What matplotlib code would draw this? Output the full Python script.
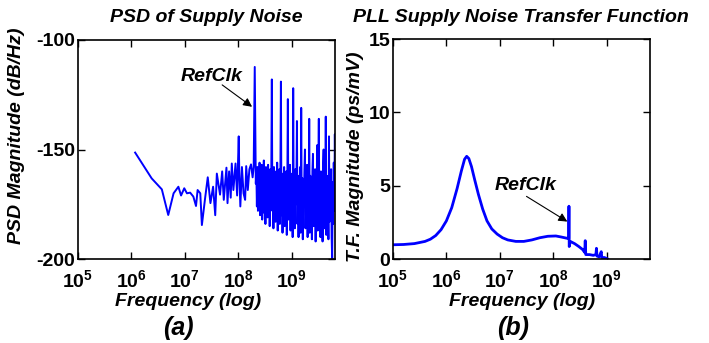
import matplotlib
matplotlib.use("Agg")
import matplotlib.pyplot as plt
import numpy as np

plt.rcParams['font.family'] = ['Liberation Sans', 'DejaVu Sans']
plt.rcParams['mathtext.fontset'] = 'custom'
plt.rcParams['mathtext.rm'] = 'Liberation Sans:bold'
plt.rcParams['mathtext.bf'] = 'Liberation Sans:bold'

# ---------------- data ----------------
psd_logf = [6.07, 6.38, 6.57, 6.69, 6.79, 6.88, 6.93, 6.99, 7.04, 7.10,
            7.16, 7.21, 7.24, 7.29, 7.32, 7.38, 7.43, 7.48, 7.53, 7.57,
            7.60, 7.66, 7.70, 7.73, 7.78, 7.80, 7.83, 7.86, 7.88, 7.91,
            7.95, 7.98, 8.01, 8.02, 8.04, 8.07, 8.10, 8.13, 8.15, 8.18,
            8.21, 8.24, 8.27, 8.29, 8.31, 8.33, 8.34,
            8.35, 8.36, 8.37, 8.38, 8.39, 8.40, 8.41, 8.42, 8.43, 8.44,
            8.45, 8.46, 8.47, 8.48, 8.49, 8.50, 8.51, 8.52, 8.53, 8.54,
            8.55, 8.56, 8.57, 8.58, 8.59, 8.60, 8.61, 8.62, 8.63, 8.64,
            8.65, 8.66, 8.67, 8.68, 8.69, 8.70, 8.71, 8.72, 8.73, 8.74,
            8.75, 8.76, 8.77, 8.78, 8.79, 8.80, 8.81, 8.82, 8.83, 8.84,
            8.85, 8.86, 8.87, 8.88, 8.89, 8.90, 8.91, 8.92, 8.93, 8.94,
            8.95, 8.96, 8.97, 8.98, 8.99, 9.00, 9.01, 9.02, 9.03, 9.04,
            9.05, 9.06, 9.07, 9.08, 9.09, 9.10, 9.11, 9.12, 9.13, 9.14,
            9.15, 9.16, 9.17, 9.18, 9.19, 9.20, 9.21, 9.22, 9.23, 9.24,
            9.25, 9.26, 9.27, 9.28, 9.29, 9.30, 9.31, 9.32, 9.33, 9.34,
            9.35, 9.36, 9.37, 9.38, 9.39, 9.40, 9.41, 9.42, 9.43, 9.44,
            9.45, 9.46, 9.47, 9.48, 9.49, 9.50, 9.51, 9.52, 9.53, 9.54,
            9.55, 9.56, 9.57, 9.58, 9.59, 9.60, 9.61, 9.62, 9.63, 9.64,
            9.65, 9.66, 9.67, 9.68, 9.69, 9.70, 9.71, 9.72, 9.73, 9.74,
            9.75, 9.76, 9.77, 9.78, 9.79, 9.80, 9.81, 9.82]
psd_db = [-151.4, -163.2, -168.2, -179.9, -170.0, -167.0, -171.0, -167.7, -170.0, -169.7,
          -171.5, -175.8, -168.5, -170.0, -184.5, -172.3, -162.7, -174.5, -167.0, -180.0,
          -161.0, -170.6, -160.0, -173.0, -158.3, -174.5, -160.0, -172.0, -156.4, -168.5,
          -156.4, -171.0, -144.0, -160.0, -176.0, -158.0, -170.0, -173.0, -157.6, -168.5,
          -159.0, -156.8, -162.7, -158.0, -112.3, -165.6, -160.0,
          -176, -158, -178, -160, -172, -156, -180, -162, -175, -157,
          -182, -163, -170, -155, -179, -161, -184, -158, -173, -164,
          -181, -157, -176, -162, -185, -159, -174, -160, -118, -178,
          -163, -186, -158, -175, -165, -183, -160, -177, -156, -187,
          -164, -172, -159, -184, -162, -119, -180, -161, -188, -166,
          -174, -158, -185, -163, -179, -160, -189, -165, -127, -182,
          -162, -176, -157, -187, -166, -180, -161, -190, -122, -178,
          -164, -186, -159, -175, -167, -137, -184, -162, -190, -165,
          -177, -158, -188, -131, -181, -163, -191, -166, -175, -160,
          -150, -186, -164, -179, -157, -190, -167, -182, -136, -188,
          -162, -176, -165, -191, -160, -152, -185, -168, -178, -159,
          -192, -166, -181, -148, -187, -163, -136, -183, -167, -190,
          -160, -177, -165, -192, -158, -150, -186, -166, -180, -135,
          -189, -162, -176, -168, -191, -144, -183, -164, -179, -159,
          -190, -200, -165, -184, -156, -178, -143, -170]

tf_logf = [5.00, 5.20, 5.40, 5.60, 5.70, 5.80, 5.90, 6.00, 6.10, 6.20,
           6.28, 6.34, 6.38, 6.42, 6.47, 6.53, 6.60, 6.68, 6.76, 6.85,
           6.95, 7.05, 7.15, 7.30, 7.45, 7.60, 7.75, 7.90, 8.05, 8.15,
           8.25, 8.29, 8.295, 8.30, 8.32, 8.40, 8.48, 8.55, 8.59, 8.60,
           8.61, 8.68, 8.75, 8.80, 8.81, 8.82, 8.86, 8.90, 8.91, 8.96,
           9.02]
tf_mag = [0.97, 0.99, 1.05, 1.20, 1.35, 1.60, 2.00, 2.60, 3.50, 4.80,
          6.00, 6.80, 7.00, 6.85, 6.30, 5.40, 4.40, 3.40, 2.60, 2.05,
          1.70, 1.45, 1.30, 1.20, 1.20, 1.30, 1.45, 1.55, 1.57, 1.50,
          1.42, 1.40, 3.60, 0.85, 1.20, 1.05, 0.85, 0.65, 0.45, 1.25,
          0.30, 0.30, 0.25, 0.30, 0.73, 0.20, 0.15, 0.50, 0.10, 0.10,
          0.00]

xtick_exp = [5, 6, 7, 8, 9]
left_yticks = [-200, -150, -100]
right_yticks = [0, 5, 10, 15]

# ---------------- figure ----------------
fig = plt.figure(figsize=(7.09, 3.43), dpi=100)
W, H = 709, 343

def px_axes(x0, y0, x1, y1):
    return fig.add_axes([x0 / W, 1 - y1 / H, (x1 - x0) / W, (y1 - y0) / H])

axL = px_axes(78, 40, 335, 259)
axR = px_axes(393, 39, 650, 259)

blue = (0, 0, 1)
axL.plot(10 ** np.array(psd_logf), psd_db, color=blue, lw=1.4)
axR.plot(10 ** np.array(tf_logf), tf_mag, color=blue, lw=2.0)

for ax in (axL, axR):
    ax.set_xscale('log')
    ax.set_xlim(1e5, 6.5e9)
    ax.set_xticks([10.0 ** e for e in xtick_exp])
    ax.set_xticklabels([r'$\mathbf{10^{%d}}$' % e for e in xtick_exp])
    ax.tick_params(axis='both', which='both', direction='in', top=True, right=True,
                   labelsize=14)
    ax.tick_params(axis='both', which='major', length=5, width=1)
    ax.tick_params(axis='both', which='minor', length=2.5, width=0.8)
    ax.tick_params(axis='x', pad=7)
    ax.tick_params(axis='y', pad=2)
    for sp in ax.spines.values():
        sp.set_linewidth(1.2)
        sp.set_color('black')

axL.set_ylim(-200, -100)
axL.set_yticks(left_yticks)
axL.set_yticklabels([str(v) for v in left_yticks], fontweight='bold', fontsize=14)
axR.set_ylim(0, 15)
axR.set_yticks(right_yticks)
axR.set_yticklabels([str(v) for v in right_yticks], fontweight='bold', fontsize=14)

tkw = dict(fontsize=14, fontweight='bold', fontstyle='italic')
fig.text(206 / W, 1 - 17 / H, 'PSD of Supply Noise', ha='center', va='center', **tkw)
fig.text(521 / W, 1 - 17 / H, 'PLL Supply Noise Transfer Function', ha='center', va='center', **tkw)
fig.text(188 / W, 1 - 301 / H, 'Frequency (log)', ha='center', va='center', **tkw)
fig.text(522 / W, 1 - 301 / H, 'Frequency (log)', ha='center', va='center', **tkw)
fig.text(17 / W, 1 - 136 / H, 'PSD Magnitude (dB/Hz)', ha='center', va='center', rotation=90, **tkw)
fig.text(356 / W, 1 - 157 / H, 'T.F. Magnitude (ps/mV)', ha='center', va='center', rotation=90, **tkw)
fig.text(178 / W, 1 - 328 / H, '(a)', ha='center', va='center', fontsize=18, fontweight='bold', fontstyle='italic')
fig.text(513 / W, 1 - 328 / H, '(b)', ha='center', va='center', fontsize=18, fontweight='bold', fontstyle='italic')

akw = dict(arrowstyle='-|>', color='black', lw=0.8, mutation_scale=13, shrinkA=0, shrinkB=0)
axL.annotate('', xy=(10 ** 8.26, -130.5), xytext=(10 ** 7.70, -120.5), arrowprops=akw)
axL.text(10 ** 7.51, -116.7, 'RefClk', ha='center', va='center', **tkw)
axR.annotate('', xy=(10 ** 8.265, 2.55), xytext=(10 ** 7.50, 4.27), arrowprops=akw)
axR.text(10 ** 7.48, 5.01, 'RefClk', ha='center', va='center', **tkw)

fig.savefig('out.png', dpi=100)
